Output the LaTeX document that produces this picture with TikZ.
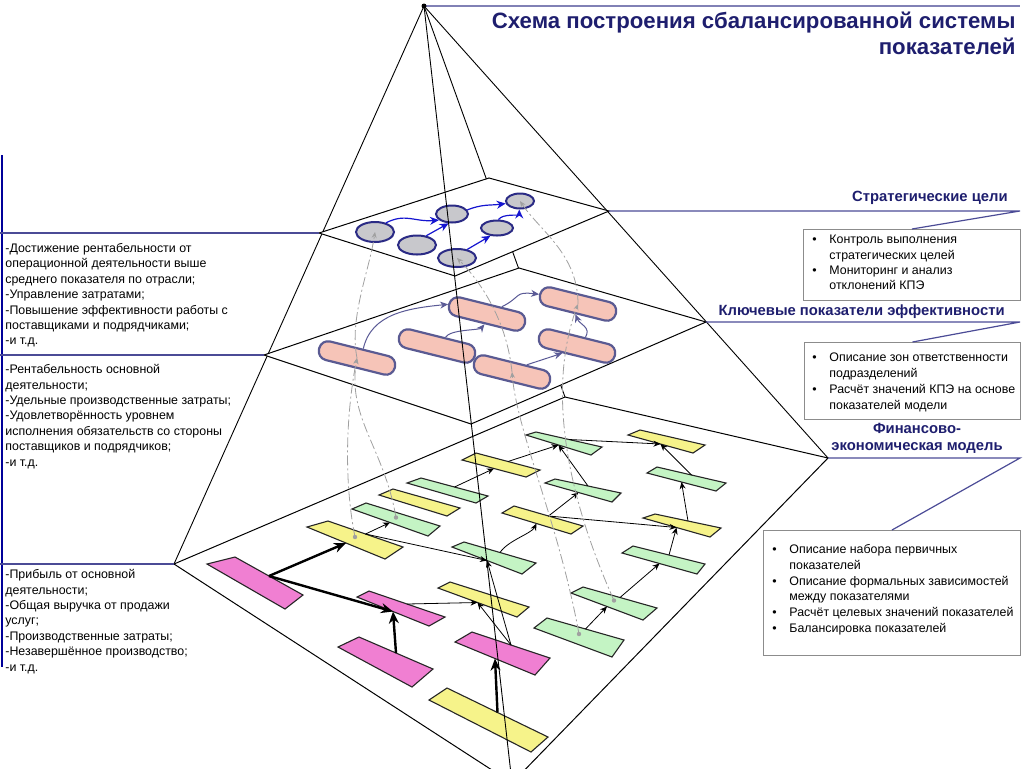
\documentclass[tikz,border=0pt]{standalone}
\usepackage{fontspec}
\setmainfont{Liberation Sans}
\usetikzlibrary{calc,arrows.meta,shapes.geometric}

\definecolor{navy}{HTML}{1E1E6E}
\definecolor{leadblue}{HTML}{4B4B96}
\definecolor{ellfill}{HTML}{C8C8CC}
\definecolor{elldraw}{HTML}{2B2B85}
\definecolor{sgblue}{HTML}{1515D0}
\definecolor{pillfill}{HTML}{F6C4B8}
\definecolor{pilldraw}{HTML}{5A5A92}
\definecolor{kpiblue}{HTML}{5A5A96}
\definecolor{fmpink}{HTML}{F07FD2}
\definecolor{fmyellow}{HTML}{F6F38A}
\definecolor{fmgreen}{HTML}{C4F4C4}
\definecolor{dashgray}{HTML}{A0A0A0}

\tikzset{
  plane/.style={draw=black, line width=0.5pt, fill=white},
  pyredge/.style={draw=black, line width=0.45pt},
  leadline/.style={draw=leadblue, line width=0.6pt},
  goal/.style={ellipse, draw=elldraw, fill=ellfill, line width=1pt, inner sep=0pt},
  goalarrow/.style={draw=sgblue, line width=0.6pt, -{Stealth[length=4.5pt,width=4pt]}},
  kpi/.style={rectangle, rounded corners=4.5pt, draw=pilldraw, fill=pillfill, line width=1.1pt,
    minimum width=39pt, minimum height=9.5pt, rotate=-14, inner sep=0pt},
  kpiarrow/.style={draw=kpiblue, line width=0.5pt, -{Stealth[length=4pt,width=3.5pt]}},
  fmline/.style={draw=black!85, line width=0.55pt},
  fmarrow/.style={draw=black, line width=0.4pt, -{Stealth[length=3.5pt,width=3pt]}},
  fmthick/.style={draw=black, line width=1.2pt, -{Stealth[length=6pt,width=5pt]}},
  tracer/.style={draw=dashgray, line width=0.4pt, dash pattern=on 5pt off 1.5pt on 1pt off 1.5pt,
    -{Stealth[length=3pt,width=2.5pt]}},
  listtext/.style={font=\fontsize{6.2}{7.7}\selectfont, align=left, inner sep=0pt, anchor=north west},
  layerhead/.style={font=\fontsize{7.4}{8.5}\selectfont\bfseries, text=navy, inner sep=0pt},
  infobox/.style={draw=black!45, line width=0.5pt, fill=white, anchor=north west, inner sep=0pt},
}

% bullet for the info boxes
\newcommand{\bul}{\makebox[8.5pt][l]{\textbullet}}
\newcommand{\ind}{\hspace*{8.5pt}}

% box of the financial model: name, colour, four corners
\newcommand{\fmbox}[6]{%
  \draw[fmline, fill=#2] #3 -- #4 -- #5 -- #6 -- cycle;
  \coordinate (#1) at ($#3!0.5!#5$);
  \coordinate (#1-in) at ($#6!0.5!#3$);
  \coordinate (#1-out) at ($#4!0.5!#5$);
}

\begin{document}
\begin{tikzpicture}[x=0.5pt, y=-0.5pt]
    \useasboundingbox (0,0) rectangle (1024,768);
    \clip (0,0) rectangle (1024,768);

    % Title
    \node[font=\fontsize{11.1}{13}\selectfont\bfseries, text=navy, align=right, anchor=north east, inner sep=0pt]
      (title) at (1016,12) {Схема построения сбалансированной системы\\показателей};

    % Pyramid corners
    \coordinate (apex) at (424,6);
    \coordinate (L1) at (319,233);
    \coordinate (B1) at (489,178);
    \coordinate (R1) at (609,211);
    \coordinate (F1) at (455,276);
    \coordinate (L2) at (264,355);
    \coordinate (B2) at (519,268);
    \coordinate (R2) at (706,322);
    \coordinate (F2) at (471,424);
    \coordinate (L3) at (174,564);
    \coordinate (B3) at (565,397);
    \coordinate (R3) at (828,458);
    \coordinate (F3) at (512,783);

    \coordinate (topend) at (1020,6);
    \draw[leadline, draw=leadblue!70] (apex) -- (topend);

    % Pyramid edges
    \draw[pyredge] (apex) -- (L3);
    \draw[pyredge] (apex) -- (B3);
    \draw[pyredge] (apex) -- (R3);

    % Financial model (bottom layer)
    \draw[plane] (L3) -- (B3) -- (R3) -- (F3) -- cycle;
    \fmbox{pL}{fmpink}{(207,564)}{(235,557)}{(303,595)}{(285,609)}
    \fmbox{yA}{fmyellow}{(307,527)}{(328,521)}{(403,547)}{(385,559)}
    \fmbox{gA}{fmgreen}{(352,509)}{(366,503)}{(440,526)}{(428,536)}
    \fmbox{yB}{fmyellow}{(379,495)}{(393,489)}{(460,508)}{(447,516)}
    \fmbox{gB}{fmgreen}{(407,483)}{(421,478)}{(488,496)}{(476,503)}
    \fmbox{yC}{fmyellow}{(462,460)}{(476,453)}{(540,470)}{(526,477)}
    \fmbox{gC}{fmgreen}{(526,435)}{(536,432)}{(602,447)}{(591,455)}
    \fmbox{yD}{fmyellow}{(628,435)}{(640,430)}{(705,445)}{(693,453)}
    \fmbox{gD}{fmgreen}{(647,473)}{(657,467)}{(726,483)}{(716,491)}
    \fmbox{gE}{fmgreen}{(545,483)}{(555,479)}{(621,493)}{(612,502)}
    \fmbox{yE}{fmyellow}{(502,513)}{(514,506)}{(583,526)}{(571,534)}
    \fmbox{yF}{fmyellow}{(643,518)}{(655,514)}{(721,528)}{(710,537)}
    \fmbox{gF}{fmgreen}{(452,547)}{(464,542)}{(536,563)}{(522,574)}
    \fmbox{gG}{fmgreen}{(622,553)}{(633,546)}{(705,564)}{(697,574)}
    \fmbox{yG}{fmyellow}{(438,588)}{(450,582)}{(529,607)}{(517,617)}
    \fmbox{pB}{fmpink}{(357,597)}{(369,591)}{(445,617)}{(429,626)}
    \fmbox{gH}{fmgreen}{(571,593)}{(583,587)}{(657,608)}{(643,620)}
    \fmbox{pC}{fmpink}{(338,647)}{(359,637)}{(433,669)}{(412,687)}
    \fmbox{pD}{fmpink}{(455,642)}{(472,632)}{(550,658)}{(535,675)}
    \fmbox{gI}{fmgreen}{(534,628)}{(547,618)}{(624,640)}{(612,657)}
    \fmbox{yH}{fmyellow}{(429,700)}{(447,688)}{(548,737)}{(531,752)}

    \draw[fmthick] (pL-out) -- (yA-in);
    \draw[fmthick] (pL-out) -- (pB-in);
    \draw[fmthick] (pC-out) -- (pB-in);
    \draw[fmthick] (yH-out) -- (pD-in);
    \draw[fmarrow] (yA-out) -- (gA-in);
    \draw[fmarrow] (yA-out) -- (gF-in);
    \draw[fmarrow] (pB-out) -- (yG-in);
    \draw[fmarrow] (pD-out) -- (yG-in);
    \draw[fmarrow] (pD-out) -- (gF-in);
    \draw[fmarrow] (gF-out) .. controls +(8,-12) and +(-5,10) .. (yE-in);
    \draw[fmarrow] (gB-out) -- (yC-in);
    \draw[fmarrow] (yC-out) -- (gC-in);
    \draw[fmarrow] (gE-out) -- (gC-in);
    \draw[fmarrow] (yE-out) -- (gE-in);
    \draw[fmarrow] (yE-out) -- (yF-in);
    \draw[fmarrow] (gC-out) -- (yD-in);
    \draw[fmarrow] (gD-out) -- (yD-in);
    \draw[fmarrow] (yF-out) -- (gD-in);
    \draw[fmarrow] (gG-out) -- (yF-in);
    \draw[fmarrow] (gH-out) -- (gG-in);
    \draw[fmarrow] (gI-out) -- (gH-in);

    % Key performance indicators (middle layer)
    \draw[plane] (L2) -- (B2) -- (R2) -- (F2) -- cycle;
    \node[kpi] (P1) at (357,358) {};
    \node[kpi] (P2) at (437,346) {};
    \node[kpi] (P3) at (487,314) {};
    \node[kpi] (P4) at (578,304) {};
    \node[kpi] (P5) at (577,346) {};
    \node[kpi] (P6) at (512,372) {};
    \draw[kpiarrow] (P1.70) .. controls +(8,-35) and +(-40,4) .. (P3.west);
    \draw[kpiarrow] (P2.60) .. controls +(5,-8) and +(-5,6) .. (P3.south);
    \draw[kpiarrow] (P3.40) .. controls +(20,-10) and +(-25,-3) .. (P4.west);
    \draw[kpiarrow] (P5.60) .. controls +(6,-10) and +(4,10) .. (P4.south);
    \draw[kpiarrow] (P6.40) -- (P5.220);

    % Strategic goals (top layer)
    \draw[plane] (L1) -- (B1) -- (R1) -- (F1) -- cycle;
    \node[goal, minimum width=19pt, minimum height=10pt] (E1) at (375,232) {};
    \node[goal, minimum width=19pt, minimum height=9.5pt] (E2) at (417,245) {};
    \node[goal, minimum width=16pt, minimum height=8.5pt] (E3) at (452,214) {};
    \node[goal, minimum width=19pt, minimum height=9pt] (E4) at (457,258) {};
    \node[goal, minimum width=16pt, minimum height=7.5pt] (E5) at (497,228) {};
    \node[goal, minimum width=14pt, minimum height=7.5pt] (E6) at (520,201) {};
    \draw[goalarrow] (E1.40) .. controls +(20,-10) and +(-25,2) .. (E3.205);
    \draw[goalarrow] (E2.45) -- (E3.250);
    \draw[goalarrow] (E3.15) .. controls +(15,-6) and +(-15,2) .. (E6.190);
    \draw[goalarrow] (E4.40) -- (E5.230);
    \draw[goalarrow] (E5.80) .. controls +(4,-6) and +(0,6) .. (E6.265);

    % Traces between layers
    \fill[dashgray] (yA) circle (2.2);
    \fill[dashgray] (gA) circle (2.2);
    \fill[dashgray] (gH) circle (2.2);
    \fill[dashgray] (gI) circle (2.2);
    \draw[tracer] (yA) .. controls +(-12,-60) and +(-10,50) .. (P1.center);
    \draw[tracer] (gA) .. controls +(-12,-70) and +(-10,60) .. (P1.center);
    \draw[tracer] (P1.center) .. controls +(-8,-40) and +(-6,40) .. (E1.center);
    \draw[tracer] (gI) .. controls +(-20,-110) and +(5,60) .. (P6.center);
    \draw[tracer] (P6.center) .. controls +(-5,-50) and +(25,25) .. (E4.center);
    \draw[tracer] (gH) .. controls +(-54,-121) and +(-28,76) .. (P4.center);
    \draw[tracer] (P4.center) .. controls +(0,-50) and +(20,30) .. (E6.center);

    % Front edge over the layers
    \draw[pyredge] (apex) -- (F3);
    \fill (apex) circle (2.5);

    % Left notes
    \coordinate (ltop) at (2,155);
    \coordinate (lbot) at (2,667);
    \draw[leadline, draw=blue!60!black] (ltop) -- (lbot);
    \coordinate (l1) at (0,233);
    \coordinate (l2) at (0,355);
    \coordinate (l3) at (0,564);
    \draw[leadline] (l1) -- (L1);
    \draw[leadline] (l2) -- (L2);
    \draw[leadline] (l3) -- (L3);
    \node[listtext] (goalnotes) at (5,243) {-Достижение рентабельности от\\операционной деятельности выше\\среднего показателя по отрасли;\\-Управление затратами;\\-Повышение эффективности работы с\\поставщиками и подрядчиками;\\-и т.д.};
    \node[listtext] (kpinotes) at (5,364) {-Рентабельность основной\\деятельности;\\-Удельные производственные затраты;\\-Удовлетворённость уровнем\\исполнения обязательств со стороны\\поставщиков и подрядчиков;\\-и т.д.};
    \node[listtext] (fmnotes) at (5,569) {-Прибыль от основной\\деятельности;\\-Общая выручка от продажи\\услуг;\\-Производственные затраты;\\-Незавершённое производство;\\-и т.д.};

    % Right labels and boxes
    \node[layerhead, anchor=base east] (goalhead) at (1008,201) {Стратегические цели};
    \node[layerhead, anchor=base east] (kpihead) at (1005,315) {Ключевые показатели эффективности};
    \node[layerhead, align=center] (fmhead) at (917,438) {Финансово-\\экономическая модель};

    \node[infobox, minimum width=108.5pt, minimum height=35.5pt] (goalbox) at (803,229) {};
    \node[infobox, minimum width=108pt, minimum height=38.5pt] (kpibox) at (804,342) {};
    \node[infobox, minimum width=128.5pt, minimum height=62.5pt] (fmbox) at (763,530) {};
    \node[listtext, font=\fontsize{6.2}{7.6}\selectfont] (goaltext) at (812,235)
      {\bul Контроль выполнения\\\ind стратегических целей\\\bul Мониторинг и анализ\\\ind отклонений КПЭ};
    \node[listtext, font=\fontsize{6.2}{8}\selectfont] (kpitext) at (812,352)
      {\bul Описание зон ответственности\\\ind подразделений\\\bul Расчёт значений КПЭ на основе\\\ind показателей модели};
    \node[listtext, font=\fontsize{6.2}{7.9}\selectfont] (fmtext) at (772,544)
      {\bul Описание набора первичных\\\ind показателей\\\bul Описание формальных зависимостей\\\ind между показателями\\\bul Расчёт целевых значений показателей\\\bul Балансировка показателей};

    \coordinate (r1) at (1020,211);
    \coordinate (r2) at (1020,322);
    \coordinate (r3) at (1020,458);
    \draw[leadline] (R1) -- (r1) -- (goalbox.north);
    \draw[leadline] (R2) -- (r2) -- (kpibox.north);
    \draw[leadline] (R3) -- (r3) -- (fmbox.north);
\end{tikzpicture}
\end{document}
